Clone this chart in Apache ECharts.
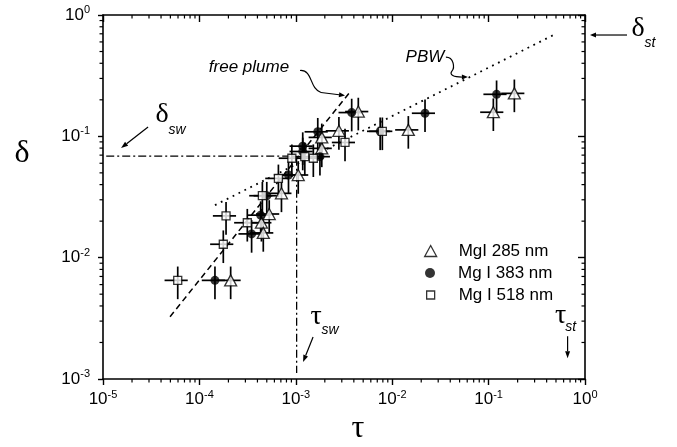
<!DOCTYPE html>
<html>
<head>
<meta charset="utf-8">
<script src="https://cdn.jsdelivr.net/npm/echarts@6/dist/echarts.min.js"></script>
<style>
  html, body { margin: 0; padding: 0; background: #fff; }
  #chart { width: 677px; height: 447px; }
</style>
</head>
<body>
<div id="chart"></div>
<script>
// ---- measured values (tau, delta) for the three Mg I lines ----
const tau285   = [2.11e-4, 4.4e-4, 4.6e-4, 5.3e-4, 7.1e-4, 1.06e-3, 1.86e-3, 1.86e-3, 2.8e-3, 4.45e-3, 0.0147, 0.112, 0.185];
const delta285 = [0.0065, 0.0194, 0.016, 0.0229, 0.0339, 0.048, 0.0796, 0.098, 0.111, 0.16, 0.113, 0.158, 0.226];

const tau383   = [1.45e-4, 3.48e-4, 4.32e-4, 5.0e-4, 8.4e-4, 1.18e-3, 1.18e-3, 1.69e-3, 1.78e-3, 3.8e-3, 7.5e-3, 0.0219, 0.121];
const delta383 = [0.0065, 0.0157, 0.0224, 0.0324, 0.048, 0.083, 0.075, 0.109, 0.068, 0.157, 0.11, 0.155, 0.222];

const tau518   = [5.96e-5, 1.77e-4, 1.89e-4, 3.14e-4, 4.5e-4, 6.6e-4, 9.1e-4, 1.24e-3, 1.52e-3, 3.24e-3, 7.9e-3];
const delta518 = [0.0065, 0.0129, 0.0221, 0.0194, 0.0324, 0.045, 0.066, 0.068, 0.066, 0.089, 0.11];

// relative uncertainties used for the error crosses
const tauRelErr = 0.27;
const deltaRelErr = 0.30;

// model lines (end points)
const freePlumeTau   = [4.96e-5, 3.65e-3];
const freePlumeDelta = [3.26e-3, 0.232];
const pbwTau   = [1.45e-4, 0.51];
const pbwDelta = [0.0271, 0.706];

// switch point guide (dash-dot): delta_sw and tau_sw
const switchTau   = [1.08e-5, 1.02e-3, 1.02e-3];
const switchDelta = [0.0688, 0.0688, 1.12e-3];

// axis ranges
const X_MIN = 1e-5, X_MAX = 1;
const Y_MIN = 1e-3, Y_MAX = 1;

const legendNames = ['MgI 285 nm', 'Mg I 383 nm', 'Mg I 518 nm'];

const SANS = 'Liberation Sans';
const SERIF = 'Liberation Serif';

const zip = (a, b) => a.map((v, i) => [v, b[i]]);

// minor tick values 2..9 x 10^k
function minorValues(lo, hi) {
  const out = [];
  for (let k = Math.round(Math.log10(lo)); k < Math.round(Math.log10(hi)); k++) {
    for (let m = 2; m <= 9; m++) out.push(m * Math.pow(10, k));
  }
  return out;
}

const powLabel = v => '{b|10}{s|' + Math.round(Math.log10(v)) + '}';
const labelRich = {
  b: { fontSize: 17, fontFamily: SANS, color: '#000', lineHeight: 21 },
  s: { fontSize: 11, fontFamily: SANS, color: '#000', verticalAlign: 'top' }
};

const axisLine = { show: true, lineStyle: { color: '#000', width: 1.6 } };

function errorBarItem(params, api) {
  const t = api.value(0), d = api.value(1);
  const l = api.coord([t * (1 - tauRelErr), d]);
  const r = api.coord([t * (1 + tauRelErr), d]);
  const lo = api.coord([t, d * (1 - deltaRelErr)]);
  const hi = api.coord([t, d * (1 + deltaRelErr)]);
  const st = { stroke: '#000', lineWidth: 1.7 };
  return {
    type: 'group',
    children: [
      { type: 'line', shape: { x1: l[0], y1: l[1], x2: r[0], y2: r[1] }, style: st },
      { type: 'line', shape: { x1: lo[0], y1: lo[1], x2: hi[0], y2: hi[1] }, style: st }
    ]
  };
}

const allPoints = zip(tau285, delta285).concat(zip(tau383, delta383), zip(tau518, delta518));

function legendBlock(name, w, h, centerY, borderWidth) {
  return {
    data: [name],
    selectedMode: false,
    orient: 'vertical',
    padding: 0,
    left: 430 - w / 2,
    top: centerY - 10,
    itemWidth: w,
    itemHeight: h,
    itemStyle: { borderWidth: borderWidth },
    textStyle: { fontSize: 17, fontFamily: SANS, color: '#000', lineHeight: 20, padding: [0, 0, 0, 23 - w / 2] }
  };
}

const option = {
  animation: false,
  backgroundColor: '#fff',
  textStyle: { fontFamily: SANS },
  grid: { left: 103, right: 92, top: 15, bottom: 68 },
  legend: [
    legendBlock(legendNames[0], 12, 11, 251, 1.3),
    legendBlock(legendNames[1], 10, 10, 273, 0),
    legendBlock(legendNames[2], 8, 8, 295, 1.3)
  ],
  xAxis: [
    {
      type: 'log', logBase: 10, min: X_MIN, max: X_MAX, position: 'bottom',
      axisLine: axisLine,
      axisTick: { show: true, inside: false, length: 6, lineStyle: { color: '#000', width: 1.4 } },
      axisLabel: { margin: 10, formatter: powLabel, rich: labelRich },
      splitLine: { show: false }
    },
    {
      type: 'log', logBase: 10, min: X_MIN, max: X_MAX, position: 'top',
      axisLine: axisLine,
      axisTick: { show: true, inside: true, length: 7, lineStyle: { color: '#000', width: 1.4 } },
      axisLabel: { show: false },
      splitLine: { show: false }
    }
  ],
  yAxis: [
    {
      type: 'log', logBase: 10, min: Y_MIN, max: Y_MAX, position: 'left',
      axisLine: axisLine,
      axisTick: { show: true, inside: false, length: 5, lineStyle: { color: '#000', width: 1.4 } },
      axisLabel: { margin: 13, formatter: powLabel, rich: labelRich },
      splitLine: { show: false }
    },
    {
      type: 'log', logBase: 10, min: Y_MIN, max: Y_MAX, position: 'right',
      axisLine: axisLine,
      axisTick: { show: true, inside: true, length: 7, lineStyle: { color: '#000', width: 1.4 } },
      axisLabel: { show: false },
      splitLine: { show: false }
    }
  ],
  series: [
    {
      type: 'line', name: 'free plume', silent: true, z: 1,
      data: zip(freePlumeTau, freePlumeDelta), symbol: 'none',
      lineStyle: { color: '#000', width: 1.5, type: [6, 4] }
    },
    {
      type: 'line', name: 'PBW', silent: true, z: 1,
      data: zip(pbwTau, pbwDelta), symbol: 'none',
      lineStyle: { color: '#000', width: 1.8, type: [1.8, 4.8] }
    },
    {
      type: 'line', name: 'switch', silent: true, z: 1,
      data: zip(switchTau, switchDelta), symbol: 'none',
      lineStyle: { color: '#000', width: 1.3, type: [8, 3, 2, 3] }
    },
    {
      type: 'custom', name: 'errors', silent: true, z: 2,
      renderItem: errorBarItem,
      data: allPoints
    },
    {
      type: 'scatter', name: legendNames[0], z: 3,
      data: zip(tau285, delta285),
      symbol: 'triangle', symbolSize: [12, 11],
      itemStyle: { color: '#fff', borderColor: '#000', borderWidth: 1.3 }
    },
    {
      type: 'scatter', name: legendNames[1], z: 3,
      data: zip(tau383, delta383),
      symbol: 'circle', symbolSize: 9,
      itemStyle: { color: '#000' }
    },
    {
      type: 'scatter', name: legendNames[2], z: 3,
      data: zip(tau518, delta518),
      symbol: 'rect', symbolSize: 8,
      itemStyle: { color: '#fff', borderColor: '#000', borderWidth: 1.3 }
    }
  ]
};

const chart = echarts.init(document.getElementById('chart'), null, { renderer: 'canvas' });
chart.setOption(option);

const toPx = (t, d) => chart.convertToPixel({ xAxisIndex: 0, yAxisIndex: 0 }, [t, d]);
const g = [];

// ---- minor ticks (2..9 per decade): outward on bottom/left, inward on top/right ----
const tickStyle = { stroke: '#000', lineWidth: 1.2 };
minorValues(X_MIN, X_MAX).forEach(v => {
  const b = toPx(v, Y_MIN), t = toPx(v, Y_MAX);
  g.push({ type: 'line', z: 60, shape: { x1: b[0], y1: b[1], x2: b[0], y2: b[1] + 3.5 }, style: tickStyle });
  g.push({ type: 'line', z: 60, shape: { x1: t[0], y1: t[1], x2: t[0], y2: t[1] + 3.5 }, style: tickStyle });
});
minorValues(Y_MIN, Y_MAX).forEach(v => {
  const l = toPx(X_MIN, v), r = toPx(X_MAX, v);
  g.push({ type: 'line', z: 60, shape: { x1: l[0], y1: l[1], x2: l[0] - 3.5, y2: l[1] }, style: tickStyle });
  g.push({ type: 'line', z: 60, shape: { x1: r[0], y1: r[1], x2: r[0] - 3.5, y2: r[1] }, style: tickStyle });
});

// ---- annotations, anchored at data positions ----
function text(x, y, str, size, family, italic) {
  return {
    type: 'text', x: x, y: y, z: 50,
    style: {
      text: str, fontSize: size, fontFamily: family, fontStyle: italic ? 'italic' : 'normal',
      fill: '#000', align: 'center', verticalAlign: 'middle'
    }
  };
}

function arrow(x1, y1, x2, y2, head, half) {
  head = head || 6; half = half || 2.5;
  const dx = x2 - x1, dy = y2 - y1, L = Math.hypot(dx, dy);
  const ux = dx / L, uy = dy / L;
  const bx = x2 - ux * head, by = y2 - uy * head;
  return [
    { type: 'line', z: 50, shape: { x1: x1, y1: y1, x2: bx, y2: by }, style: { stroke: '#000', lineWidth: 1.2 } },
    { type: 'polygon', z: 50, shape: { points: [[x2, y2], [bx - uy * half, by + ux * half], [bx + uy * half, by - ux * half]] }, style: { fill: '#000' } }
  ];
}

function curve(ax, ay, pts) {
  return {
    type: 'bezierCurve', z: 50,
    shape: {
      x1: ax + pts[0], y1: ay + pts[1], cpx1: ax + pts[2], cpy1: ay + pts[3],
      cpx2: ax + pts[4], cpy2: ay + pts[5], x2: ax + pts[6], y2: ay + pts[7]
    },
    style: { stroke: '#000', lineWidth: 1.2, fill: null }
  };
}

const anchors = {
  freePlume: [3.24e-3, 0.217],
  pbw: [0.061, 0.308],
  deltaSw: [1.54e-5, 0.080],
  tauSw: [1.19e-3, 1.38e-3],
  tauSt: [0.66, 1.48e-3],
  deltaSt: [1, 0.684]
};

(function () {
  const [ax, ay] = toPx(anchors.freePlume[0], anchors.freePlume[1]);
  g.push(text(ax - 96, ay - 28, 'free plume', 17, SANS, true));
  g.push(curve(ax, ay, [-45, -25, -32, -26, -36, -7, -24, -3]));
  g.push(...arrow(ax - 24, ay - 3, ax, ay, 6, 2.5));
})();
(function () {
  const [ax, ay] = toPx(anchors.pbw[0], anchors.pbw[1]);
  g.push(text(ax - 43, ay - 20, 'PBW', 17, SANS, true));
  g.push(curve(ax, ay, [-22, -20, -14, -20, -13, -9, -16, -6]));
  g.push(curve(ax, ay, [-16, -6, -19, -2, -14, 0, -6, 0]));
  g.push(...arrow(ax - 6, ay, ax, ay, 6, 2.5));
})();
(function () {
  const [ax, ay] = toPx(anchors.deltaSw[0], anchors.deltaSw[1]);
  g.push(text(ax + 41, ay - 33, 'δ', 28, SERIF, false));
  g.push(text(ax + 56, ay - 18, 'sw', 14, SANS, true));
  g.push(...arrow(ax + 27, ay - 21, ax, ay, 7, 2.5));
})();
(function () {
  const [ax, ay] = toPx(anchors.tauSw[0], anchors.tauSw[1]);
  g.push(text(ax + 13, ay - 45, 'τ', 28, SERIF, false));
  g.push(text(ax + 27, ay - 32, 'sw', 14, SANS, true));
  g.push(...arrow(ax + 10, ay - 25, ax, ay, 7, 2.5));
})();
(function () {
  const [ax, ay] = toPx(anchors.tauSt[0], anchors.tauSt[1]);
  g.push(text(ax - 7, ay - 43, 'τ', 28, SERIF, false));
  g.push(text(ax + 3, ay - 31, 'st', 14, SANS, true));
  g.push(...arrow(ax, ay - 22, ax, ay, 7, 2.5));
})();
(function () {
  const [ax, ay] = toPx(anchors.deltaSt[0], anchors.deltaSt[1]);
  g.push(text(ax + 53, ay - 6, 'δ', 28, SERIF, false));
  g.push(text(ax + 65, ay + 8, 'st', 14, SANS, true));
  g.push(...arrow(ax + 42, ay, ax + 5, ay, 6, 2.5));
})();

// axis titles
g.push(text(22, 154, 'δ', 32, SERIF, false));
g.push(text(358, 429, 'τ', 32, SERIF, false));

chart.setOption({ graphic: g });
</script>
</body>
</html>
